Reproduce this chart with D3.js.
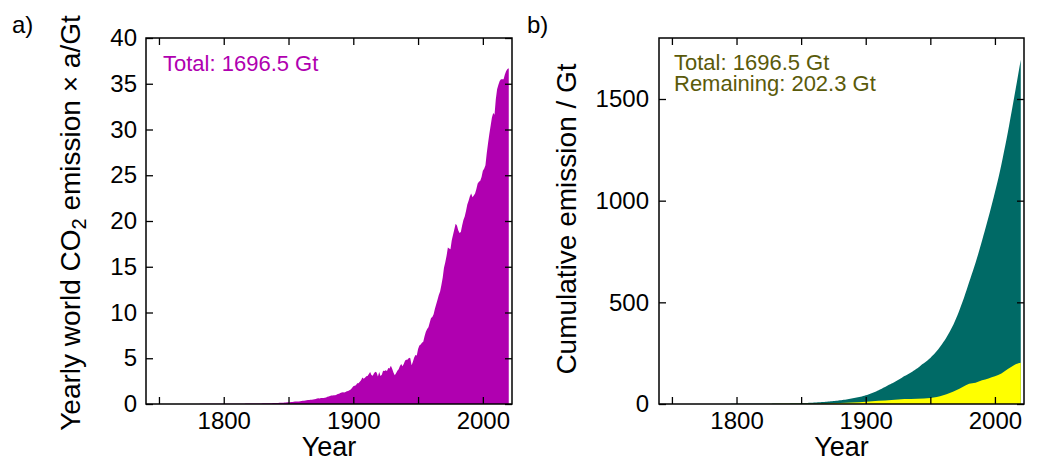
<!DOCTYPE html>
<html>
<head>
<meta charset="utf-8">
<script src="https://cdnjs.cloudflare.com/ajax/libs/d3/7.8.5/d3.min.js"></script>
<style>
  body { margin: 0; background: #fff; }
  svg text { font-family: "Liberation Sans", Arial, Helvetica, sans-serif; }
</style>
</head>
<body>
<div id="viz"></div>
<script>
// yearly world CO2 emission in Gt, one value per year from 1750 to 2020
var firstYear = 1750;
var yearlyEmission = [
  0.009, 0.009, 0.009, 0.009, 0.009, 0.010, 0.010, 0.010, 0.010, 0.010,
  0.010, 0.010, 0.010, 0.011, 0.011, 0.011, 0.011, 0.011, 0.011, 0.011,
  0.011, 0.012, 0.012, 0.012, 0.012, 0.012, 0.012, 0.013, 0.013, 0.013,
  0.013, 0.013, 0.014, 0.014, 0.015, 0.016, 0.016, 0.017, 0.018, 0.018,
  0.019, 0.020, 0.021, 0.022, 0.022, 0.023, 0.024, 0.025, 0.026, 0.027,
  0.028, 0.028, 0.029, 0.030, 0.031, 0.031, 0.032, 0.033, 0.034, 0.035,
  0.035, 0.036, 0.037, 0.038, 0.039, 0.040, 0.041, 0.042, 0.043, 0.044,
  0.044, 0.046, 0.048, 0.050, 0.052, 0.055, 0.057, 0.060, 0.063, 0.066,
  0.069, 0.072, 0.075, 0.078, 0.081, 0.085, 0.089, 0.093, 0.097, 0.101,
  0.106, 0.112, 0.118, 0.124, 0.131, 0.140, 0.150, 0.162, 0.175, 0.186,
  // 1850
  0.197, 0.198, 0.207, 0.217, 0.255, 0.260, 0.278, 0.281, 0.284, 0.302,
  0.333, 0.351, 0.356, 0.375, 0.400, 0.427, 0.435, 0.465, 0.470, 0.495,
  0.513, 0.556, 0.600, 0.633, 0.613, 0.643, 0.656, 0.667, 0.675, 0.722,
  0.791, 0.827, 0.876, 0.935, 0.935, 0.945, 0.960, 1.011, 1.104, 1.111,
  1.211, 1.269, 1.281, 1.264, 1.324, 1.397, 1.433, 1.501, 1.581, 1.754,
  // 1900
  1.95, 1.99, 2.06, 2.27, 2.28, 2.42, 2.59, 2.89, 2.77, 2.88,
  3.03, 3.07, 3.27, 3.51, 3.16, 3.10, 3.36, 3.52, 3.43, 3.00,
  3.51, 3.05, 3.21, 3.63, 3.61, 3.69, 3.61, 3.93, 3.89, 4.17,
  3.85, 3.44, 3.15, 3.36, 3.63, 3.80, 4.14, 4.36, 4.13, 4.40,
  4.75, 4.84, 4.87, 5.05, 5.00, 4.24, 4.62, 5.07, 5.36, 5.30,
  // 1950
  6.0, 6.4, 6.5, 6.7, 6.8, 7.4, 7.9, 8.2, 8.4, 8.9,
  9.4, 9.5, 9.8, 10.4, 10.9, 11.4, 11.9, 12.3, 13.0, 13.8,
  14.9, 15.5, 16.2, 17.1, 17.0, 16.9, 17.9, 18.5, 19.1, 19.7,
  19.5, 19.0, 18.7, 18.8, 19.5, 20.1, 20.5, 21.1, 21.8, 22.2,
  22.7, 23.0, 22.6, 22.8, 23.0, 23.5, 24.1, 24.3, 24.4, 24.8,
  // 2000
  25.5, 25.7, 26.1, 27.4, 28.5, 29.5, 30.4, 31.3, 31.8, 31.6,
  33.3, 34.4, 34.9, 35.3, 35.5, 35.5, 35.5, 36.0, 36.4, 36.6,
  36.7
];

// "remaining" part of the cumulative emission (yellow), Gt
var remainingYears  = [1750, 1800, 1850, 1870, 1890, 1900, 1910, 1920, 1930, 1940, 1950, 1955, 1960,
                       1965, 1970, 1975, 1980, 1985, 1990, 1995, 2000, 2005, 2010, 2015, 2020];
var remainingValues = [0, 0.3, 1, 3, 7, 11, 16, 20, 24, 26, 29, 34, 43,
                       54, 68, 84, 99, 105, 117, 126, 136, 150, 172, 192, 202.3];

var xTickValues = [1750, 1800, 1850, 1900, 1950, 2000];
var xTickLabels = [1800, 1900, 2000];
var yTicksA = [0, 5, 10, 15, 20, 25, 30, 35, 40];
var yTicksB = [0, 500, 1000, 1500];

var totalText = 'Total: 1696.5 Gt';
var remainingText = 'Remaining: 202.3 Gt';

var years = yearlyEmission.map((d, i) => firstYear + i);
var cumulative = Array.from(d3.cumsum(yearlyEmission));

var W = 1040, H = 461,
    plotTop = 38, plotBottom = 404,
    tickLen = 7,
    tickFont = 24, labelFont = 28, noteFont = 22;

var magenta = '#b000b0', teal = '#006a66', olive = '#5a5a0a';

var svg = d3.select('#viz').append('svg')
  .attr('width', W)
  .attr('height', H)
  .style('background', '#fff');

// both panels share the same year axis
var xA = d3.scaleLinear().domain([1740, 2022.5]).range([146, 512]);
var xB = d3.scaleLinear().domain([1740, 2022.5]).range([659, 1024]);
var yA = d3.scaleLinear().domain([0, 40]).range([plotBottom, plotTop]);
var yB = d3.scaleLinear().domain([0, 1800]).range([plotBottom, plotTop]);

// ---- panel a
svg.append('path')
  .datum(yearlyEmission)
  .attr('fill', magenta)
  .attr('d', d3.area()
    .x((d, i) => xA(years[i]))
    .y0(yA(0))
    .y1(d => yA(d)));

// ---- panel b
svg.append('path')
  .datum(cumulative)
  .attr('fill', teal)
  .attr('d', d3.area()
    .x((d, i) => xB(years[i]))
    .y0(yB(0))
    .y1(d => yB(d)));

svg.append('path')
  .datum(remainingValues)
  .attr('fill', '#ffff00')
  .attr('d', d3.area()
    .curve(d3.curveMonotoneX)
    .x((d, i) => xB(remainingYears[i]))
    .y0(yB(0))
    .y1(d => yB(d)));

function frame(x, y, yTicks, pad) {
  var x0 = x.range()[0], x1 = x.range()[1];

  svg.append('g')
    .attr('transform', 'translate(0,' + plotBottom + ')')
    .call(d3.axisBottom(x).tickValues(xTickValues).tickSize(-tickLen).tickPadding(8)
      .tickFormat(d => xTickLabels.includes(d) ? d : ''));
  svg.append('g')
    .attr('transform', 'translate(0,' + plotTop + ')')
    .call(d3.axisTop(x).tickValues(xTickValues).tickSize(-tickLen).tickFormat(''));
  svg.append('g')
    .attr('transform', 'translate(' + x0 + ',0)')
    .call(d3.axisLeft(y).tickValues(yTicks).tickSize(-tickLen).tickPadding(pad)
      .tickFormat(d3.format('d')));
  svg.append('g')
    .attr('transform', 'translate(' + x1 + ',0)')
    .call(d3.axisRight(y).tickValues(yTicks).tickSize(-tickLen).tickFormat(''));

  svg.selectAll('.domain').remove();
  svg.selectAll('.tick line').attr('stroke', '#000').attr('stroke-width', 1.3);
  svg.selectAll('.tick text')
    .attr('fill', '#000')
    .style('font-size', tickFont + 'px')
    .style('font-family', '"Liberation Sans", Arial, sans-serif');

  svg.append('rect')
    .attr('x', x0)
    .attr('y', plotTop)
    .attr('width', x1 - x0)
    .attr('height', plotBottom - plotTop)
    .attr('fill', 'none')
    .attr('stroke', '#000')
    .attr('stroke-width', 1.5);

  svg.append('text')
    .attr('x', (x0 + x1) / 2)
    .attr('y', 456)
    .attr('text-anchor', 'middle')
    .style('font-size', '27px')
    .text('Year');
}

frame(xA, yA, yTicksA, 9);
frame(xB, yB, yTicksB, 10);

// y labels
var la = svg.append('text')
  .attr('transform', 'translate(80,223) rotate(-90)')
  .attr('text-anchor', 'middle')
  .style('font-size', labelFont + 'px');
la.append('tspan').text('Yearly world CO');
la.append('tspan').attr('dy', 6).style('font-size', '20px').text('2');
la.append('tspan').attr('dy', -6).text(' emission \u00d7 a/Gt');

svg.append('text')
  .attr('transform', 'translate(576,219) rotate(-90)')
  .attr('text-anchor', 'middle')
  .style('font-size', labelFont + 'px')
  .text('Cumulative emission / Gt');

// panel letters
svg.append('text').attr('x', 12).attr('y', 33).style('font-size', '24px').text('a)');
svg.append('text').attr('x', 527).attr('y', 33).style('font-size', '24px').text('b)');

// notes
svg.append('text').attr('x', 163).attr('y', 71)
  .attr('fill', magenta).style('font-size', noteFont + 'px').text(totalText);
svg.append('text').attr('x', 674).attr('y', 70)
  .attr('fill', olive).style('font-size', noteFont + 'px').text(totalText);
svg.append('text').attr('x', 674).attr('y', 91)
  .attr('fill', olive).style('font-size', noteFont + 'px').text(remainingText);
</script>
</body>
</html>
